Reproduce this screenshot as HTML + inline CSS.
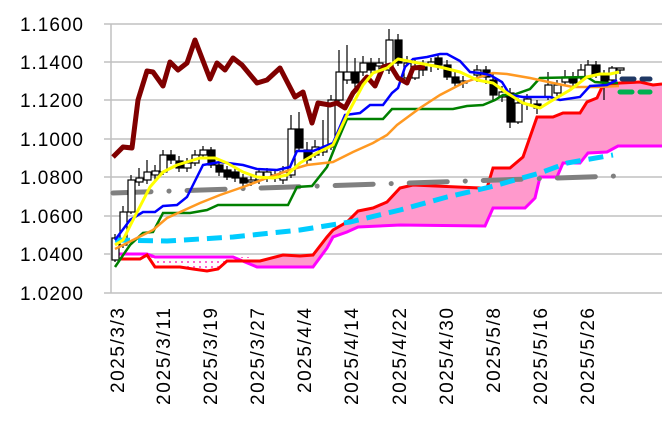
<!DOCTYPE html>
<html><head><meta charset="utf-8"><style>html,body{margin:0;padding:0;background:#fff}svg{display:block}</style></head>
<body>
<svg width="662" height="431" viewBox="0 0 662 431" xmlns="http://www.w3.org/2000/svg" font-family="Liberation Sans, sans-serif">
<defs>
<pattern id="dots" width="6" height="5" patternUnits="userSpaceOnUse"><rect width="6" height="5" fill="#fff"/><rect x="1" y="1" width="2" height="2" fill="#ff66cc"/></pattern>
</defs>
<g stroke="#c0c0c0" stroke-width="1.5">
<line x1="104" y1="24" x2="662" y2="24"/><line x1="104" y1="62" x2="662" y2="62"/><line x1="104" y1="100" x2="662" y2="100"/><line x1="104" y1="139" x2="662" y2="139"/><line x1="104" y1="177" x2="662" y2="177"/><line x1="104" y1="216" x2="662" y2="216"/><line x1="104" y1="254" x2="662" y2="254"/><line x1="104" y1="293" x2="662" y2="293"/>
<line x1="111" y1="24" x2="111" y2="293"/>
</g>
<g font-size="19" fill="#000" text-anchor="end">
<text x="83" y="31" textLength="63">1.1600</text><text x="83" y="69" textLength="63">1.1400</text><text x="83" y="107" textLength="63">1.1200</text><text x="83" y="146" textLength="63">1.1000</text><text x="83" y="184" textLength="63">1.0800</text><text x="83" y="223" textLength="63">1.0600</text><text x="83" y="261" textLength="63">1.0400</text><text x="83" y="300" textLength="63">1.0200</text>
</g>
<g font-size="19" fill="#000" text-anchor="end">
<text transform="translate(124,308) rotate(-90)" textLength="85">2025/3/3</text>
<text transform="translate(170,308) rotate(-90)" textLength="97">2025/3/11</text>
<text transform="translate(217,308) rotate(-90)" textLength="97">2025/3/19</text>
<text transform="translate(264,308) rotate(-90)" textLength="97">2025/3/27</text>
<text transform="translate(311,308) rotate(-90)" textLength="85">2025/4/4</text>
<text transform="translate(358,308) rotate(-90)" textLength="97">2025/4/14</text>
<text transform="translate(406,308) rotate(-90)" textLength="97">2025/4/22</text>
<text transform="translate(453,308) rotate(-90)" textLength="97">2025/4/30</text>
<text transform="translate(500,308) rotate(-90)" textLength="85">2025/5/8</text>
<text transform="translate(547,308) rotate(-90)" textLength="97">2025/5/16</text>
<text transform="translate(594,308) rotate(-90)" textLength="97">2025/5/26</text>
</g>
<!-- cloud -->
<polygon fill="url(#dots)" points="147,255 155,267 180,267 193,269 207,271 218,269 227,261 250,261 250,257 233,257 155,257 147,254"/>
<polygon fill="#ff99cc" points="250,261 260,261 283,255 300,256 313,255 327,237 333,230 347,222 358,211 373,208 387,202 400,188 413,185 480,188 487,188 493,168 510,168 523,157 537,117 553,117 563,113 580,113 587,102 597,98 603,85 620,83 640,82 653,85 662,84 662,146 618,146 607,152 588,153 580,163 563,163 557,177 540,177 535,198 525,208 493,208 485,226 397,226 358,227 347,232 333,237 327,248 313,267 257,267 250,262"/>
<polyline fill="none" stroke="#ff00ff" stroke-width="3" points="115,254 147,254 155,257 233,257 257,267 313,267 327,248 333,237 347,232 358,227 400,225 485,226 493,208 525,208 535,198 540,177 557,177 563,163 580,163 588,153 607,152 618,146 662,146"/>
<polyline fill="none" stroke="#ff0000" stroke-width="3" points="115,259 140,259 147,255 155,267 180,267 193,269 207,271 218,269 227,261 260,261 283,255 300,256 313,255 327,237 333,230 347,222 358,211 373,208 387,202 400,188 413,185 480,188 487,188 493,168 510,168 523,157 537,117 553,117 563,113 580,113 587,102 597,98 603,85 620,83 640,82 653,85 662,84"/>
<!-- gray dash-dot -->
<line x1="113" y1="193" x2="616" y2="176" stroke="#808080" stroke-width="5" stroke-linecap="round" stroke-dasharray="38 18 0.1 18"/>
<!-- candles -->
<g stroke="#000" stroke-width="1.2">
<line x1="115" y1="234" x2="115" y2="262"/><rect x="112" y="238" width="7" height="22" fill="#fff"/>
<line x1="123" y1="206" x2="123" y2="248"/><rect x="120" y="212" width="7" height="33" fill="#fff"/>
<line x1="131" y1="175" x2="131" y2="214"/><rect x="128" y="180" width="7" height="32" fill="#fff"/>
<line x1="139" y1="168" x2="139" y2="186"/><rect x="136" y="178" width="7" height="4" fill="#fff"/>
<line x1="147" y1="160" x2="147" y2="184"/><rect x="144" y="172" width="7" height="8" fill="#fff"/>
<line x1="155" y1="165" x2="155" y2="180"/><rect x="152" y="171" width="7" height="4" fill="#fff"/>
<line x1="163" y1="150" x2="163" y2="175"/><rect x="160" y="155" width="7" height="17" fill="#fff"/>
<line x1="171" y1="150" x2="171" y2="164"/><rect x="168" y="155" width="7" height="5" fill="#000"/>
<line x1="179" y1="156" x2="179" y2="172"/><rect x="176" y="161" width="7" height="7" fill="#000"/>
<line x1="187" y1="158" x2="187" y2="172"/><rect x="184" y="163" width="7" height="5" fill="#fff"/>
<line x1="195" y1="150" x2="195" y2="166"/><rect x="192" y="155" width="7" height="8" fill="#fff"/>
<line x1="203" y1="146" x2="203" y2="158"/><rect x="200" y="150" width="7" height="5" fill="#fff"/>
<line x1="211" y1="147" x2="211" y2="168"/><rect x="208" y="150" width="7" height="15" fill="#000"/>
<line x1="219" y1="162" x2="219" y2="176"/><rect x="216" y="165" width="7" height="7" fill="#000"/>
<line x1="227" y1="166" x2="227" y2="180"/><rect x="224" y="170" width="7" height="7" fill="#000"/>
<line x1="235" y1="168" x2="235" y2="182"/><rect x="232" y="172" width="7" height="6" fill="#000"/>
<line x1="243" y1="174" x2="243" y2="187"/><rect x="240" y="178" width="7" height="5" fill="#000"/>
<line x1="251" y1="176" x2="251" y2="186"/><rect x="248" y="180" width="7" height="2" fill="#fff"/>
<line x1="259" y1="168" x2="259" y2="184"/><rect x="256" y="172" width="7" height="8" fill="#fff"/>
<line x1="267" y1="168" x2="267" y2="182"/><rect x="264" y="172" width="7" height="6" fill="#fff"/>
<line x1="275" y1="170" x2="275" y2="182"/><rect x="272" y="175" width="7" height="3" fill="#000"/>
<line x1="283" y1="166" x2="283" y2="184"/><rect x="280" y="172" width="7" height="8" fill="#fff"/>
<line x1="291" y1="115" x2="291" y2="178"/><rect x="288" y="129" width="7" height="46" fill="#fff"/>
<line x1="299" y1="112" x2="299" y2="152"/><rect x="296" y="129" width="7" height="19" fill="#000"/>
<line x1="307" y1="142" x2="307" y2="164"/><rect x="304" y="150" width="7" height="10" fill="#000"/>
<line x1="315" y1="140" x2="315" y2="158"/><rect x="312" y="147" width="7" height="8" fill="#fff"/>
<line x1="323" y1="120" x2="323" y2="156"/><rect x="320" y="148" width="7" height="4" fill="#fff"/>
<line x1="331" y1="95" x2="331" y2="150"/><rect x="328" y="100" width="7" height="47" fill="#fff"/>
<line x1="339" y1="50" x2="339" y2="104"/><rect x="336" y="72" width="7" height="28" fill="#fff"/>
<line x1="347" y1="45" x2="347" y2="84"/><rect x="344" y="72" width="7" height="8" fill="#fff"/>
<line x1="355" y1="58" x2="355" y2="88"/><rect x="352" y="72" width="7" height="11" fill="#000"/>
<line x1="363" y1="56" x2="363" y2="76"/><rect x="360" y="63" width="7" height="9" fill="#fff"/>
<line x1="371" y1="58" x2="371" y2="74"/><rect x="368" y="63" width="7" height="7" fill="#000"/>
<line x1="379" y1="58" x2="379" y2="72"/><rect x="376" y="63" width="7" height="3" fill="#fff"/>
<line x1="389" y1="29" x2="389" y2="74"/><rect x="386" y="40" width="7" height="30" fill="#fff"/>
<line x1="398" y1="34" x2="398" y2="66"/><rect x="395" y="40" width="7" height="23" fill="#000"/>
<line x1="407" y1="56" x2="407" y2="80"/><rect x="404" y="63" width="7" height="15" fill="#fff"/>
<line x1="415" y1="60" x2="415" y2="80"/><rect x="412" y="67" width="7" height="11" fill="#fff"/>
<line x1="423" y1="60" x2="423" y2="76"/><rect x="420" y="67" width="7" height="3" fill="#000"/>
<line x1="431" y1="58" x2="431" y2="72"/><rect x="428" y="62" width="7" height="3" fill="#fff"/>
<line x1="438" y1="55" x2="438" y2="70"/><rect x="435" y="58" width="7" height="7" fill="#000"/>
<line x1="447" y1="60" x2="447" y2="80"/><rect x="444" y="65" width="7" height="12" fill="#000"/>
<line x1="455" y1="72" x2="455" y2="86"/><rect x="452" y="77" width="7" height="6" fill="#000"/>
<line x1="463" y1="76" x2="463" y2="88"/><rect x="460" y="81" width="7" height="2" fill="#fff"/>
<line x1="477" y1="65" x2="477" y2="82"/><rect x="474" y="70" width="7" height="5" fill="#fff"/>
<line x1="486" y1="66" x2="486" y2="84"/><rect x="483" y="70" width="7" height="7" fill="#000"/>
<line x1="493" y1="74" x2="493" y2="100"/><rect x="490" y="80" width="7" height="15" fill="#000"/>
<line x1="502" y1="86" x2="502" y2="102"/><rect x="499" y="92" width="7" height="5" fill="#fff"/>
<line x1="510" y1="88" x2="510" y2="128"/><rect x="507" y="93" width="7" height="29" fill="#000"/>
<line x1="518" y1="98" x2="518" y2="124"/><rect x="515" y="103" width="7" height="19" fill="#fff"/>
<line x1="527" y1="94" x2="527" y2="110"/><rect x="524" y="99" width="7" height="5" fill="#fff"/>
<line x1="537" y1="100" x2="537" y2="114"/><rect x="534" y="104" width="7" height="4" fill="#000"/>
<line x1="548" y1="72" x2="548" y2="100"/><rect x="545" y="85" width="7" height="12" fill="#fff"/>
<line x1="557" y1="80" x2="557" y2="96"/><rect x="554" y="85" width="7" height="8" fill="#fff"/>
<line x1="565" y1="70" x2="565" y2="85"/><rect x="562" y="77" width="7" height="5" fill="#fff"/>
<line x1="573" y1="72" x2="573" y2="86"/><rect x="570" y="77" width="7" height="6" fill="#000"/>
<line x1="581" y1="64" x2="581" y2="80"/><rect x="578" y="70" width="7" height="8" fill="#fff"/>
<line x1="588" y1="60" x2="588" y2="79"/><rect x="585" y="65" width="7" height="12" fill="#fff"/>
<line x1="596" y1="61" x2="596" y2="78"/><rect x="593" y="65" width="7" height="10" fill="#000"/>
<line x1="604" y1="70" x2="604" y2="100"/><rect x="601" y="75" width="7" height="8" fill="#000"/>
<line x1="612" y1="66" x2="612" y2="84"/><rect x="609" y="68" width="7" height="12" fill="#fff"/>
<line x1="620" y1="68" x2="620" y2="74"/><rect x="617" y="68" width="7" height="2" fill="#fff"/>
</g>
<!-- cyan dashed -->
<polyline fill="none" stroke="#00ccff" stroke-width="5" stroke-dasharray="15 8" points="115,240 167,241 233,237 300,230 350,222 400,210 447,197 490,187 540,173 567,163 613,155"/>
<!-- green -->
<polyline fill="none" stroke="#008000" stroke-width="2.5" points="115,267 130,245 143,233 153,232 163,213 190,213 207,210 218,205 288,205 297,187 312,186 327,167 335,147 347,119 383,119 392,109 453,109 467,106 483,105 495,100 503,95 513,95 530,89 540,78 587,77 595,82 607,83 618,83"/>
<line x1="620" y1="92" x2="650" y2="92" stroke="#00b050" stroke-width="5" stroke-linecap="round" stroke-dasharray="12 8"/>
<!-- orange -->
<polyline fill="none" stroke="#ff9922" stroke-width="2.5" points="115,249 133,240 153,230 167,218 200,203 220,195 243,187 267,178 290,170 307,165 333,162 353,152 373,143 387,135 397,125 420,108 440,95 463,83 480,77 493,73 507,74 530,78 553,83 573,87 597,87 619,86"/>
<!-- blue -->
<polyline fill="none" stroke="#0000ff" stroke-width="2.5" points="115,240 130,220 143,212 155,212 163,206 177,205 187,197 203,165 220,162 243,165 257,169 277,170 290,167 297,151 313,151 333,143 345,115 360,113 370,105 383,105 392,93 398,88 405,67 413,59 427,57 440,54 447,54 460,61 470,72 480,73 490,75 502,82 510,95 523,97 550,97 560,100 580,97 590,86 607,85 617,80"/>
<line x1="622" y1="79" x2="650" y2="79" stroke="#1f3864" stroke-width="5" stroke-linecap="round" stroke-dasharray="12 8"/>
<!-- dark red chikou -->
<polyline fill="none" stroke="#800000" stroke-width="5" stroke-linejoin="round" points="113,157 123,147 132,148 138,100 147,71 153,72 163,86 170,62 178,70 187,63 195,40 210,79 217,63 225,70 233,58 242,65 257,83 267,80 280,68 295,97 303,92 312,123 318,103 330,105 337,103 345,108 353,93 367,77 375,86 383,67 390,65 398,78 407,83 413,68 425,67"/>
<!-- yellow -->
<polyline fill="none" stroke="#ffff00" stroke-width="3" stroke-linejoin="round" points="115,245 123,240 133,220 150,187 163,172 177,165 200,158 215,158 227,163 243,172 257,177 273,178 287,175 300,163 317,153 333,145 347,115 363,85 373,73 387,68 398,59 413,62 440,67 460,72 477,80 493,83 507,93 523,103 540,108 553,100 570,90 587,77 600,74 610,74 619,72"/>
</svg>
</body></html>
